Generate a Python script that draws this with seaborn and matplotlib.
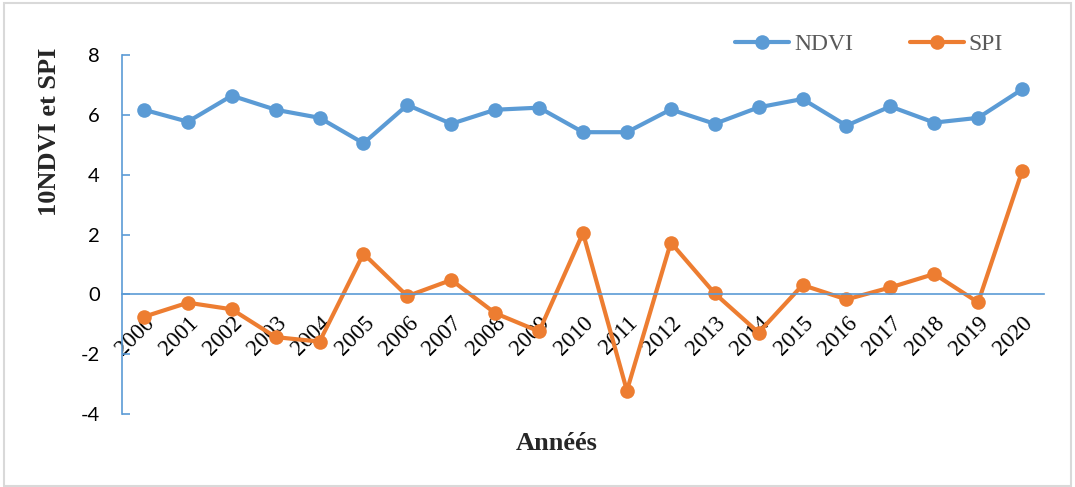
import matplotlib
matplotlib.use("Agg")
import matplotlib.pyplot as plt
from matplotlib.patches import Rectangle
from matplotlib.lines import Line2D
from matplotlib.ticker import FixedLocator, FixedFormatter, NullFormatter
import seaborn as sns
import pandas as pd
import numpy as np

# Series data (10 x NDVI and SPI per year)
years = [str(y) for y in range(2000, 2021)]
ndvi = [6.17, 5.77, 6.64, 6.17, 5.90, 5.05, 6.33, 5.70, 6.17, 6.24, 5.42,
        5.42, 6.18, 5.70, 6.25, 6.53, 5.64, 6.28, 5.74, 5.90, 6.85]
spi = [-0.75, -0.28, -0.50, -1.43, -1.58, 1.36, -0.06, 0.48, -0.63, -1.24, 2.05,
       -3.22, 1.73, 0.03, -1.28, 0.31, -0.17, 0.23, 0.68, -0.27, 4.11]
y_ticks = [-4, -2, 0, 2, 4, 6, 8]

blue = "#5B9BD5"
orange = "#ED7D31"

sns.set_theme(style="white")
plt.rcParams["font.family"] = ["Liberation Serif", "DejaVu Serif"]

df = pd.DataFrame({"pos": np.arange(len(years)), "Année": years,
                   "NDVI": ndvi, "SPI": spi})

fig = plt.figure(figsize=(10.75, 4.87), dpi=100)
fig.patch.set_facecolor("white")
fig.patches.append(Rectangle((4 / 1075, 1 / 487), 1067 / 1075, 483 / 487,
                             transform=fig.transFigure, fill=False,
                             edgecolor="#D9D9D9", linewidth=1.5))

ax = fig.add_axes([122 / 1075, 1 - 414 / 487, 922 / 1075, 359 / 487])
ax.set_facecolor("white")

line_kw = dict(marker="o", markersize=10.5, linewidth=3, markeredgewidth=0)
sns.lineplot(data=df, x="pos", y="NDVI", color=blue, ax=ax, **line_kw)
sns.lineplot(data=df, x="pos", y="SPI", color=orange, ax=ax, **line_kw)

ax.set_xlim(-0.5, len(years) - 0.5)
ax.set_ylim(-4, 8)

# Axes spines: y axis on the left, x axis through zero
for s in ["top", "right"]:
    ax.spines[s].set_visible(False)
ax.spines["left"].set_color(blue)
ax.spines["bottom"].set_color(blue)
ax.spines["left"].set_linewidth(1.2)
ax.spines["bottom"].set_linewidth(1.2)
ax.spines["bottom"].set_position(("data", 0))

# Category boundary ticks on the x axis, labels at category centres
ax.xaxis.set_major_locator(FixedLocator(np.arange(len(years) + 1) - 0.5))
ax.xaxis.set_major_formatter(NullFormatter())
ax.xaxis.set_minor_locator(FixedLocator(np.arange(len(years))))
ax.xaxis.set_minor_formatter(FixedFormatter(years))
ax.tick_params(axis="x", which="major", direction="in", length=7,
               width=1.2, color=blue)
ax.tick_params(axis="x", which="minor", length=0, pad=13, labelsize=16.5,
               labelrotation=45, labelcolor="black")
fig.canvas.draw()
for lab in ax.get_xticklabels(minor=True):
    lab.set_fontfamily(["Liberation Serif", "DejaVu Serif"])
    lab.set_ha("right")
    lab.set_va("top")
    lab.set_rotation_mode("anchor")

ax.set_yticks(y_ticks)
ax.set_yticklabels([str(v) for v in y_ticks], family="Lato", fontsize=14.5)
ax.tick_params(axis="y", direction="in", length=6, width=1.2, color=blue,
               pad=16, left=True, labelcolor="black")

ax.set_ylabel("10NDVI et SPI", fontsize=19, fontweight="bold")
ax.yaxis.set_label_coords(-0.066, 0.786)
ax.set_xlabel("Annéés", fontsize=19, fontweight="bold")
ax.xaxis.set_label_coords(0.471, -0.05)

handles = [Line2D([], [], color=blue, **line_kw),
           Line2D([], [], color=orange, **line_kw)]
fig.legend(handles, ["NDVI", "SPI"], loc="center left",
           bbox_to_anchor=(735 / 1075, 1 - 44 / 487), ncol=2, frameon=False,
           fontsize=17, labelcolor="#595959", borderpad=0, borderaxespad=0,
           handlelength=2.3, handletextpad=0.2, columnspacing=2.4)

fig.savefig("out.png", dpi=100)
